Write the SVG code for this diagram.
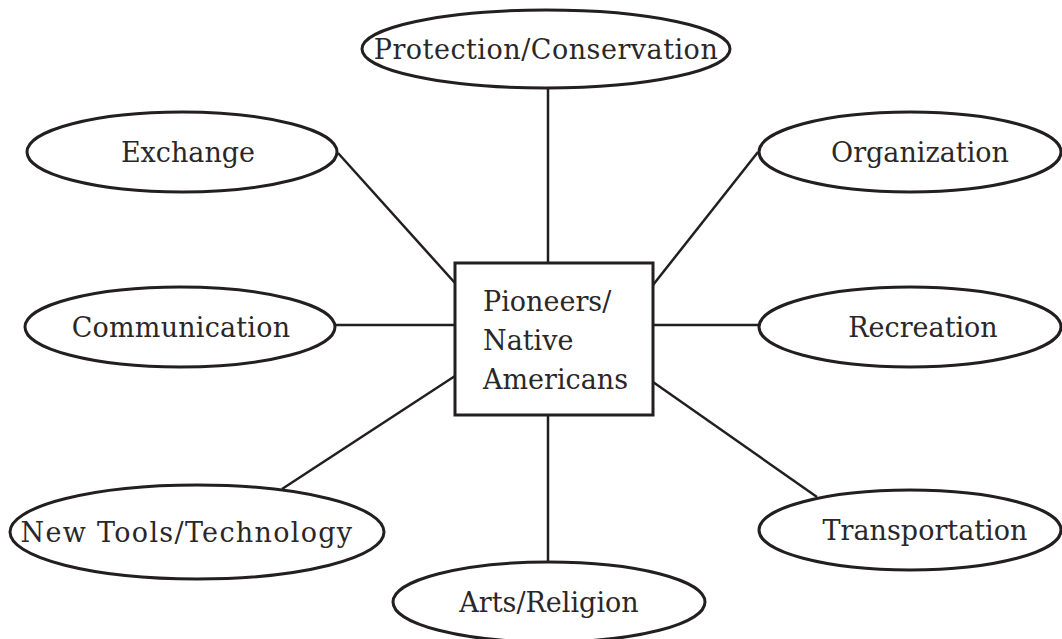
<svg xmlns="http://www.w3.org/2000/svg" width="1062" height="639" viewBox="0 0 1062 639">
<style>
.n{fill:#fff;stroke:#231f20;stroke-width:3}
.c line{stroke:#231f20;stroke-width:2.5}
text{font-family:"DejaVu Serif","Liberation Serif",serif;font-size:27px;fill:#2b2728}
.m{text-anchor:middle}
</style>
<rect width="1062" height="639" fill="#fff"/>
<g class="c" id="connectors">
<line x1="548" y1="88" x2="548" y2="262"/>
<line x1="338" y1="153" x2="455" y2="283"/>
<line x1="758" y1="152" x2="653" y2="285"/>
<line x1="335" y1="325" x2="455" y2="325"/>
<line x1="653" y1="325" x2="758" y2="325"/>
<line x1="455" y1="376" x2="282" y2="489"/>
<line x1="653" y1="382" x2="817" y2="497"/>
<line x1="548" y1="415" x2="548" y2="562"/>
</g>
<g id="center"><rect class="n" x="455" y="263" width="198" height="152"/>
<text x="483" y="311">Pioneers/</text><text x="483" y="350">Native</text><text x="483" y="389">Americans</text></g>
<g id="protection"><ellipse class="n" cx="546" cy="49" rx="184" ry="39"/><text class="m" x="546" y="59" letter-spacing="0.5">Protection/Conservation</text></g>
<g id="exchange"><ellipse class="n" cx="182" cy="152" rx="155" ry="40"/><text class="m" x="188" y="162">Exchange</text></g>
<g id="organization"><ellipse class="n" cx="910" cy="152" rx="151" ry="40"/><text class="m" x="920" y="162">Organization</text></g>
<g id="communication"><ellipse class="n" cx="180" cy="327" rx="155" ry="40"/><text class="m" x="181" y="337" letter-spacing="0.2">Communication</text></g>
<g id="recreation"><ellipse class="n" cx="910" cy="327" rx="151" ry="40"/><text class="m" x="923" y="337">Recreation</text></g>
<g id="newtools"><ellipse class="n" cx="197" cy="532" rx="187" ry="47"/><text class="m" x="187" y="542" letter-spacing="1.3">New Tools/Technology</text></g>
<g id="transportation"><ellipse class="n" cx="910" cy="530" rx="151" ry="40"/><text class="m" x="925" y="540">Transportation</text></g>
<g id="arts"><ellipse class="n" cx="549" cy="602" rx="156" ry="40"/><text class="m" x="549" y="612">Arts/Religion</text></g>
</svg>
